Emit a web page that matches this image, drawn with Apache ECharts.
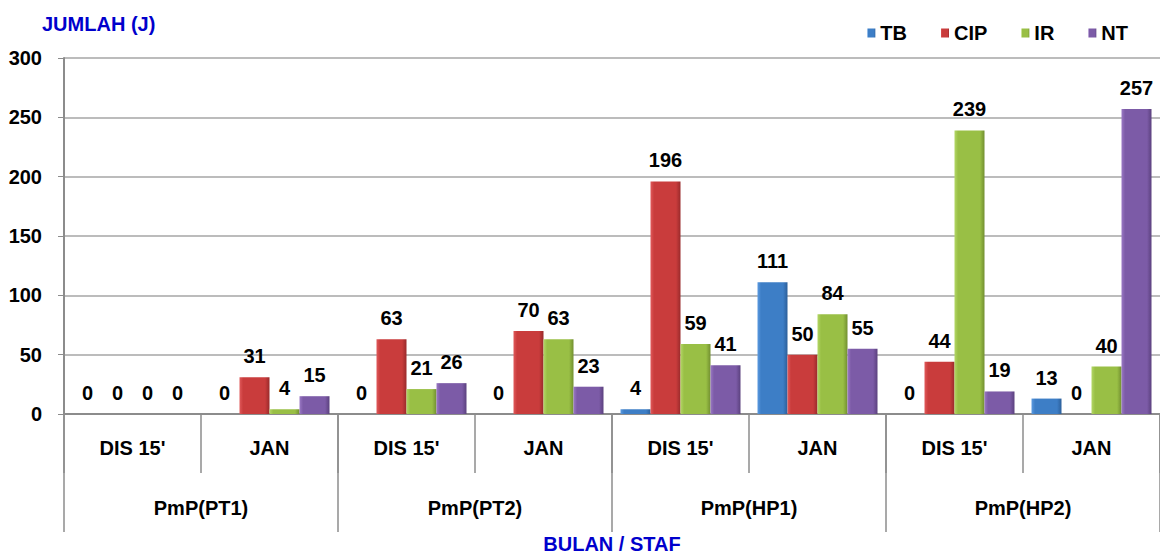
<!DOCTYPE html>
<html>
<head>
<meta charset="utf-8">
<script src="https://cdn.jsdelivr.net/npm/echarts@6/dist/echarts.min.js"></script>
<style>
    html, body { margin: 0; padding: 0; background: #fff; }
    #chart { width: 1160px; height: 557px; }
</style>
</head>
<body>
<div id="chart"></div>
<script>
    // data
    const months = ["DIS 15'", 'JAN', "DIS 15'", 'JAN', "DIS 15'", 'JAN', "DIS 15'", 'JAN'];
    const staff = ['PmP(PT1)', 'PmP(PT2)', 'PmP(HP1)', 'PmP(HP2)'];
    const seriesNames = ['TB', 'CIP', 'IR', 'NT'];
    const tb = [0, 0, 0, 0, 4, 111, 0, 13];
    const cip = [0, 31, 63, 70, 196, 50, 44, 0];
    const ir = [0, 4, 21, 63, 59, 84, 239, 40];
    const nt = [0, 15, 26, 23, 41, 55, 19, 257];
    const yTicks = [0, 50, 100, 150, 200, 250, 300];

    const FONT = 'Arial, "Liberation Sans", sans-serif';
    // light, base, dark
    const palette = [
        ['#5b9ae0', '#3d7ec6', '#2c5f9a'],
        ['#e0595a', '#c93c3c', '#992a2b'],
        ['#b3d766', '#99bf45', '#728f30'],
        ['#9a78c4', '#7c5ba7', '#5b417e']
    ];

    function barColor(c) {
        return new echarts.graphic.LinearGradient(0, 0, 1, 0, [
            {offset: 0, color: c[0]},
            {offset: 0.12, color: c[1]},
            {offset: 0.85, color: c[1]},
            {offset: 1, color: c[2]}
        ]);
    }

    let myChart = echarts.init(document.getElementById('chart'), null, {renderer: 'svg'});

    const values = [tb, cip, ir, nt];
    const series = seriesNames.map(function (name, i) {
        return {
            name: name,
            type: 'bar',
            xAxisIndex: 0,
            barWidth: 30,
            barGap: '0%',
            itemStyle: {
                color: barColor(palette[i])
            },
            label: {
                show: true,
                position: 'top',
                distance: 11,
                color: '#000',
                fontFamily: FONT,
                fontWeight: 'bold',
                fontSize: 20
            },
            data: values[i]
        };
    });

    let option = {
        animation: false,
        title: {
            text: 'JUMLAH (J)',
            left: 37,
            top: 9,
            textStyle: {color: '#0000cc', fontFamily: FONT, fontWeight: 'bold', fontSize: 20}
        },
        legend: {
            data: seriesNames,
            right: 27,
            top: 18,
            icon: 'rect',
            itemWidth: 8,
            itemHeight: 9,
            itemGap: 34,
            textStyle: {color: '#000', fontFamily: FONT, fontWeight: 'bold', fontSize: 20}
        },
        grid: {left: 64, right: 0, top: 58, bottom: 143, outerBoundsMode: 'none'},
        xAxis: [
            {
                type: 'category',
                position: 'bottom',
                data: months,
                axisLine: {lineStyle: {color: '#8c8c8c', width: 2}},
                axisTick: {show: true, length: 59, interval: 0, lineStyle: {color: '#8c8c8c', width: 1.5}},
                axisLabel: {
                    interval: 0, margin: 24, color: '#000',
                    fontFamily: FONT, fontWeight: 'bold', fontSize: 20
                },
                name: 'BULAN / STAF',
                nameLocation: 'middle',
                nameGap: 120,
                nameTextStyle: {color: '#0000cc', fontFamily: FONT, fontWeight: 'bold', fontSize: 20}
            },
            {
                type: 'category',
                position: 'bottom',
                data: staff,
                axisLine: {show: false},
                axisTick: {show: true, length: 118, interval: 0, lineStyle: {color: '#8c8c8c', width: 1.5}},
                axisLabel: {
                    interval: 0, margin: 84, color: '#000',
                    fontFamily: FONT, fontWeight: 'bold', fontSize: 20
                }
            }
        ],
        yAxis: {
            type: 'value',
            min: yTicks[0],
            max: yTicks[yTicks.length - 1],
            interval: 50,
            axisLine: {show: true, lineStyle: {color: '#8c8c8c', width: 2}},
            axisTick: {show: true, length: 6, lineStyle: {color: '#8c8c8c'}},
            axisLabel: {margin: 22, color: '#000', fontFamily: FONT, fontWeight: 'bold', fontSize: 20},
            splitLine: {lineStyle: {color: '#a6a6a6', width: 1.5}}
        },
        series: series
    };
    myChart.setOption(option);
</script>
</body>
</html>
